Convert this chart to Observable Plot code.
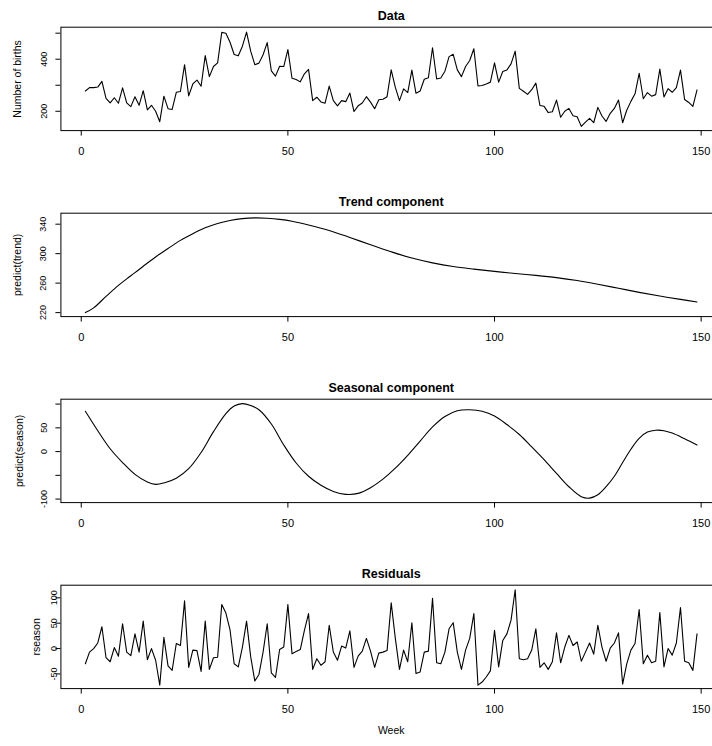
<!DOCTYPE html>
<html><head><meta charset="utf-8">
<script src="https://cdn.jsdelivr.net/npm/d3@7"></script>
<script src="https://cdn.jsdelivr.net/npm/@observablehq/plot@0.6"></script>
<style>
html,body{margin:0;padding:0;background:#fff;overflow:hidden;width:712px;height:746px}
#chart{width:722px}
#chart svg{display:block;max-width:none}
</style></head><body><div id="chart"></div>
<script>
const weeks = d3.range(1, 150);
const births = [278,291,291,293,315,250,232,252,231,290,232,218,256,223,279,205,223,200,160,258,
210,207,273,276,379,259,305,320,296,414,333,372,386,503,500,465,418,413,450,504,
431,379,385,417,464,355,335,373,372,437,327,322,313,344,361,241,254,236,231,297,
241,221,241,237,270,199,221,232,256,235,210,244,246,256,359,292,241,286,272,358,
269,278,323,329,444,324,328,354,410,419,359,333,372,395,440,297,299,305,312,386,
312,353,359,382,431,288,277,265,283,308,222,219,195,198,243,177,200,211,183,179,
142,158,173,156,215,182,161,192,211,243,156,204,238,267,346,248,272,258,264,362,
255,287,273,291,358,245,234,219,282];
const residuals = [-30,-7,0,11,43,-18,-26,2,-15,49,-7,-14,29,-7,54,-22,0,-23,-72,22,
-34,-43,10,6,94,-37,-3,-4,-45,54,-41,-18,-17,87,70,37,-30,-36,3,54,
-16,-64,-51,-7,49,-48,-57,-2,3,87,-10,-6,-2,36,69,-41,-20,-33,-26,46,
-7,-23,5,1,35,-37,-15,-5,20,-5,-37,-9,-7,-4,90,20,-41,-3,-26,51,
-49,-46,-7,-5,99,-28,-30,-7,39,51,-7,-41,-3,20,69,-72,-66,-56,-44,36,
-36,16,29,56,116,-20,-22,-20,-3,39,-37,-28,-41,-26,31,-28,3,26,6,13,
-25,-7,11,-11,46,3,-25,1,11,31,-70,-30,-3,10,77,-30,-13,-28,-25,71,
-36,0,-13,11,81,-25,-28,-43,29];
const trendWeeks = [1,3,6,9,12,15,18,21,24,27,30,33,36,39,42,45,48,51,55,60,65,70,75,80,85,90,95,100,105,110,115,120,125,130,135,140,145,149];
const trendValues = [220,226.5,242,257,270,283,295.5,307,318,327,335,341,345,347.5,348.5,348,346.5,344,339,331.5,322,312,302.5,294,287.5,282.5,279,276,273,270.5,267.5,263.5,258.5,253,247.5,242.5,238,234.5];
const seasonWeeks = [1,4,7,10,13,16,18,20,23,26,29,32,35,37,39,41,43,46,49,52,55,58,61,64,67,70,73,76,79,82,85,88,91,94,97,100,103,106,109,112,115,118,121,123,125,127,129,131,133,135,137,139,141,143,146,149];
const seasonValues = [85,44,6,-23,-48,-64,-69,-66,-56,-36,-2,42,80,96,101,97,88,58,14,-24,-52,-71,-84,-90,-88,-76,-58,-35,-8,22,52,74,86,88,85,75,57,36,10,-17,-46,-74,-95,-98,-91,-74,-52,-23,5,28,41,45,44,39,27,14];

const xTicks = [0, 50, 100, 150];
const titles = ["Data", "Trend component", "Seasonal component", "Residuals"];
const yLabels = ["Number of births", "predict(trend)", "predict(season)", "rseason"];
const yTicks = [[200,300,400,500],[220,260,300,340],[-100,-50,0,50,100],[-50,0,50,100]];
const yTickLabels = [[200,400],[220,260,300,340],[-100,0,50],[-50,0,50,100]];
const xLabel = "Week";

const series = [
  weeks.map((w,i)=>({x:w, y:births[i]})),
  trendWeeks.map((w,i)=>({x:w, y:trendValues[i]})),
  seasonWeeks.map((w,i)=>({x:w, y:seasonValues[i]})),
  weeks.map((w,i)=>({x:w, y:residuals[i]}))
];
const curves = ["linear","catmull-rom","catmull-rom","linear"];
const domains = [[125.8,523],[214.6,354.9],[-107.4,110.3],[-78.9,124.9]];
const labelDx = [-43.7,-43.4,-41.4,-24];
const tickDx = [-17,-17.4,-17,-7];

const font = "'Liberation Sans', Arial, Helvetica, sans-serif";
const chart = document.getElementById("chart");
for (let k = 0; k < 4; k++) {
  const marks = [
    Plot.line(series[k], {x:"x", y:"y", stroke:"black", strokeWidth:1.1, curve:curves[k]}),
    Plot.frame({stroke:"black", strokeWidth:1}),
    Plot.text([titles[k]], {frameAnchor:"top", dy:-11.5, fontWeight:"bold", fontSize:12.5, lineAnchor:"middle"}),
    Plot.text([yLabels[k]], {frameAnchor:"left", dx:labelDx[k], rotate:-90, fontSize:10.5, lineAnchor:"middle", textAnchor:"middle"}),
    Plot.text(yTickLabels[k], {y:d=>d, text:d=>String(d), frameAnchor:"left", dx:tickDx[k], rotate:-90, fontSize:9, lineAnchor:"middle", textAnchor:"middle"})
  ];
  if (k === 3) marks.push(Plot.text([xLabel], {frameAnchor:"bottom", dy:42.5, fontSize:10.5, lineAnchor:"middle"}));
  const p = Plot.plot({
    width: 722, height: 186.1,
    marginLeft: 60.4, marginRight: 1, marginTop: 26.7, marginBottom: 56,
    style: {fontFamily: font, fontSize: "11px", background: "white", maxWidth: "none", overflow: "visible"},
    x: {domain:[-4.92,154.92], ticks:xTicks, tickSize:5.5, tickPadding:11.3, tickFormat:d=>String(d), label:null},
    y: {domain:domains[k], ticks:yTicks[k], tickSize:5, tickPadding:2, tickFormat:()=>"", label:null},
    marks
  });
  chart.appendChild(p);
}
</script></body></html>
